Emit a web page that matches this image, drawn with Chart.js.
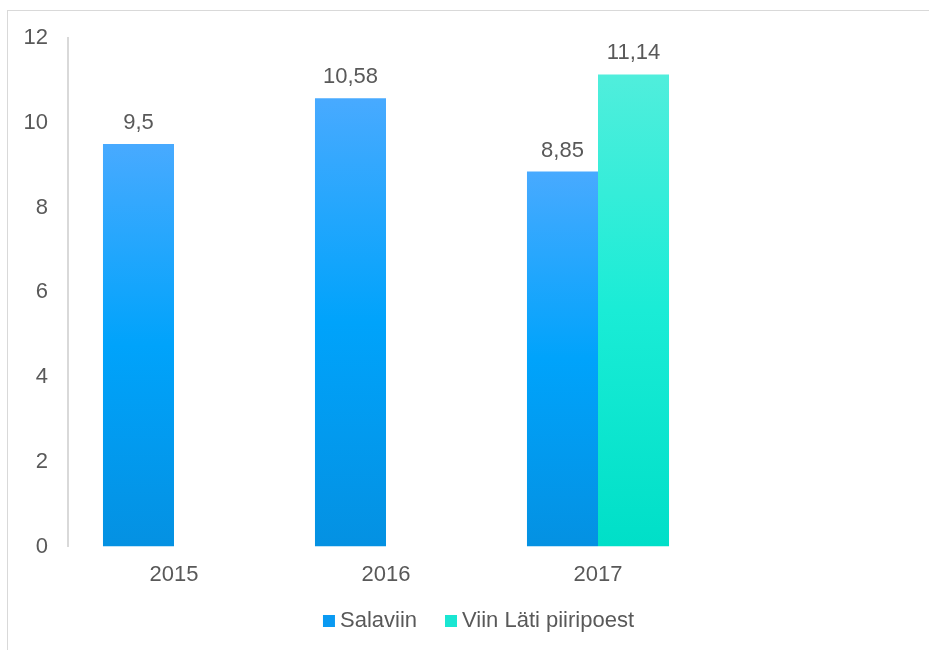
<!DOCTYPE html>
<html>
<head>
<meta charset="utf-8">
<script src="https://cdn.jsdelivr.net/npm/chart.js@4/dist/chart.umd.min.js"></script>
<style>
  body { margin: 0; background: #fff; overflow: hidden; }
  #frame { position: absolute; left: 7px; top: 10px; width: 960px; height: 700px; border: 1px solid #d9d9d9; }
  #wrap { position: absolute; left: 0; top: 0; width: 929px; height: 650px; }
</style>
</head>
<body>
<div id="frame"></div>
<div id="wrap"><canvas id="mycanvas" width="929" height="650"></canvas></div>
<script>
var years = ['2015', '2016', '2017', ''];
var salaviin = [9.5, 10.58, 8.85, null];
var viinLati = [null, null, 11.14, null];
var yTicks = [0, 2, 4, 6, 8, 10, 12];

var textColor = '#595959';
var fontFamily = "'Liberation Sans', Arial, sans-serif";
var font = { family: fontFamily, size: 22 };

// vertical gradient per bar, light at the top
function barGradient(stops) {
  return function(ctx) {
    var chart = ctx.chart;
    if (!chart.chartArea || ctx.raw == null) return stops[1][1];
    var y = chart.scales.y;
    var top = y.getPixelForValue(ctx.raw);
    var bottom = y.getPixelForValue(0);
    var g = chart.ctx.createLinearGradient(0, top, 0, bottom);
    stops.forEach(function(s) { g.addColorStop(s[0], s[1]); });
    return g;
  };
}

var blueStops = [[0, '#48aaff'], [0.5, '#00a3fb'], [1, '#0491e2']];
var tealStops = [[0, '#50eedc'], [0.5, '#1aecd6'], [1, '#00dfc8']];
var legendColors = ['#0a9af2', '#1ae6d2'];

var valueLabels = {
  id: 'valueLabels',
  afterDatasetsDraw: function(chart) {
    var c = chart.ctx;
    c.save();
    c.fillStyle = textColor;
    c.font = font.size + 'px ' + fontFamily;
    c.textAlign = 'center';
    c.textBaseline = 'alphabetic';
    chart.data.datasets.forEach(function(ds, i) {
      chart.getDatasetMeta(i).data.forEach(function(bar, j) {
        var v = ds.data[j];
        if (v == null) return;
        c.fillText(String(v).replace('.', ','), bar.x, bar.y - 15);
      });
    });
    c.restore();
  }
};

// small legend centred under the plot, tight gap between swatch and text
var bottomLegend = {
  id: 'bottomLegend',
  afterDraw: function(chart) {
    var c = chart.ctx;
    var box = 12, gap = 5, itemGap = 28, cy = 621;
    c.save();
    c.font = font.size + 'px ' + fontFamily;
    c.textBaseline = 'middle';
    var items = chart.data.datasets.map(function(ds) { return ds.label; });
    var widths = items.map(function(t) { return box + gap + c.measureText(t).width; });
    var total = widths.reduce(function(a, b) { return a + b; }, 0) + itemGap * (items.length - 1);
    var x = (chart.width - total) / 2 + 14;
    items.forEach(function(t, i) {
      c.fillStyle = legendColors[i];
      c.fillRect(x, cy - box / 2, box, box);
      c.fillStyle = textColor;
      c.fillText(t, x + box + gap, cy);
      x += widths[i] + itemGap;
    });
    c.restore();
  }
};

var chartdata = {
  labels: years,
  datasets: [
    {
      label: 'Salaviin',
      data: salaviin,
      backgroundColor: barGradient(blueStops),
      categoryPercentage: 0.67,
      barPercentage: 1.0
    },
    {
      label: 'Viin Läti piiripoest',
      data: viinLati,
      backgroundColor: barGradient(tealStops),
      categoryPercentage: 0.67,
      barPercentage: 1.0
    }
  ]
};

var ctx = document.getElementById('mycanvas');

new Chart(ctx, {
  type: 'bar',
  data: chartdata,
  plugins: [valueLabels, bottomLegend],
  options: {
    responsive: false,
    animation: false,
    layout: { padding: { top: 38, right: 13, bottom: 47, left: 0 } },
    plugins: {
      tooltip: { enabled: false },
      legend: { display: false }
    },
    scales: {
      x: {
        grid: { display: false, drawTicks: false },
        border: { display: false },
        ticks: { color: textColor, font: font, padding: 15 }
      },
      y: {
        min: 0,
        max: 12,
        afterFit: function(scale) { scale.width = 68; },
        afterBuildTicks: function(scale) {
          scale.ticks = yTicks.map(function(v) { return { value: v }; });
        },
        grid: { display: false, drawTicks: false },
        border: { display: true, color: '#d9d9d9', width: 2 },
        ticks: { color: textColor, font: font, padding: 20 }
      }
    }
  }
});
</script>
</body>
</html>
